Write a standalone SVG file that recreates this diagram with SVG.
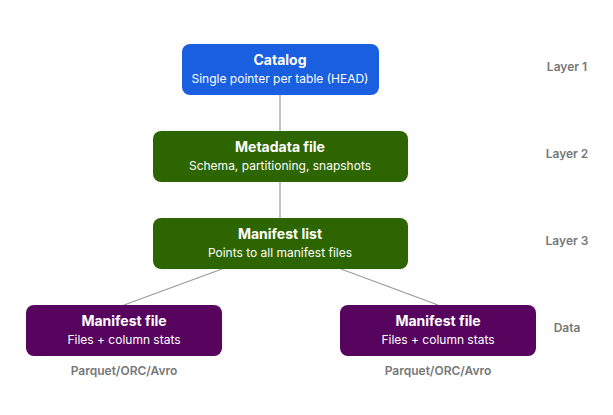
<svg xmlns="http://www.w3.org/2000/svg" width="613" height="415" viewBox="0 0 613 415">
<style>
.t{font-family:Inter,"Liberation Sans",sans-serif;fill:#fff;text-anchor:middle}
.b{font-weight:bold;font-size:14px}
.s{font-size:12px}
.g{font-family:Inter,"Liberation Sans",sans-serif;fill:#777;font-size:12px;font-weight:600;text-anchor:middle}
.c{stroke:#999;stroke-width:1.2;fill:none}
</style>
<rect width="613" height="415" fill="#fff"/>
<g id="connectors">
<line class="c" x1="280" y1="95" x2="280" y2="131"/>
<line class="c" x1="280" y1="182" x2="280" y2="218"/>
<line class="c" x1="222" y1="269" x2="124" y2="305"/>
<line class="c" x1="341" y1="269" x2="438" y2="305"/>
</g>
<g id="catalog"><rect x="182" y="44" width="197" height="51" rx="8" fill="#1a5fe0"/>
<text class="t b" x="280" y="65">Catalog</text><text class="t s" x="280" y="83">Single pointer per table (HEAD)</text></g>
<g id="metadata"><rect x="153" y="131" width="255" height="51" rx="8" fill="#2d6600"/>
<text class="t b" x="280" y="152">Metadata file</text><text class="t s" x="280" y="170">Schema, partitioning, snapshots</text></g>
<g id="manifestlist"><rect x="153" y="218" width="255" height="51" rx="8" fill="#2d6600"/>
<text class="t b" x="280" y="239">Manifest list</text><text class="t s" x="280" y="257">Points to all manifest files</text></g>
<g id="mf1"><rect x="26" y="305" width="196" height="51" rx="8" fill="#57045f"/>
<text class="t b" x="124" y="326">Manifest file</text><text class="t s" x="124" y="344">Files + column stats</text></g>
<g id="mf2"><rect x="340" y="305" width="196" height="51" rx="8" fill="#57045f"/>
<text class="t b" x="438" y="326">Manifest file</text><text class="t s" x="438" y="344">Files + column stats</text></g>
<g id="labels">
<text class="g" x="567" y="71">Layer 1</text>
<text class="g" x="567" y="158">Layer 2</text>
<text class="g" x="567" y="245">Layer 3</text>
<text class="g" x="567" y="332">Data</text>
<text class="g" x="124" y="375">Parquet/ORC/Avro</text>
<text class="g" x="438" y="375">Parquet/ORC/Avro</text>
</g>
</svg>
